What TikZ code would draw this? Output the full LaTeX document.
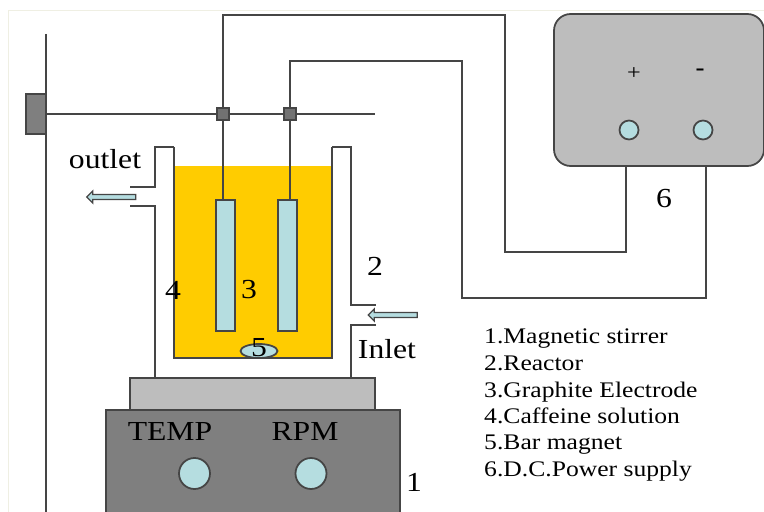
\documentclass[tikz,border=0pt]{standalone}
\usepackage{fontspec}
\setmainfont[FakeStretch=1.15]{Liberation Serif}
\usepackage{xcolor}
\usepackage{tikz}
\usetikzlibrary{shapes.geometric, shapes.arrows, calc}

\definecolor{wirecol}{HTML}{454545}
\definecolor{solncol}{HTML}{FFCC00}
\definecolor{glasscol}{HTML}{B5DDE0}
\definecolor{platecol}{HTML}{BDBDBD}
\definecolor{basecol}{HTML}{7F7F7F}
\definecolor{framecol}{HTML}{EFEFE3}

\tikzset{
    wire/.style={draw=wirecol, line width=1.5pt},
    clampbox/.style={draw=wirecol, line width=1.5pt, fill=basecol!90!black, minimum size=0.36cm, inner sep=0pt},
    electrode/.style={draw=wirecol, line width=1.5pt, fill=glasscol, minimum width=0.57cm, minimum height=3.93cm, inner sep=0pt},
    knob/.style={circle, draw=wirecol, line width=1.5pt, fill=glasscol, inner sep=0pt},
    flowarrow/.style={single arrow, draw=wirecol, line width=1.1pt, fill=glasscol, shape border rotate=180, minimum width=0.36cm, minimum height=1.47cm, single arrow head extend=0.07cm, inner sep=0.03cm},
    lbl/.style={font=\fontsize{23.5}{26}\selectfont, text=black, inner sep=0pt},
    legend/.style={font=\fontsize{19}{22}\selectfont, text=black, inner sep=0pt, anchor=base west}
}

\begin{document}
\begin{tikzpicture}[x=0.03cm, y=-0.03cm]
    \useasboundingbox (0,0) rectangle (764,512);
    \fill [white] (0,0) rectangle (764,512);
    \draw [color=framecol, line width=0.8pt] (8,512) -- (8,10) -- (764,10);

    % Stand
    \draw [wire] (46,34) -- (46,512);
    \draw [wire, fill=basecol] (26,94) rectangle (46,134);
    \draw [wire] (46,114) -- (375,114);

    % Solution and reactor
    \fill [solncol] (174,166) rectangle (332,358);
    \draw [wire] (174,147) -- (174,358) -- (332,358) -- (332,147);
    \draw [wire] (130,187) -- (155,187) -- (155,147) -- (174,147);
    \draw [wire] (130,206) -- (155,206) -- (155,378);
    \draw [wire] (332,147) -- (351,147) -- (351,305) -- (376,305);
    \draw [wire] (376,325) -- (351,325) -- (351,378);

    % Electrodes and clamps
    \node [electrode] (elecA) at (225.5,265.5) {};
    \node [electrode] (elecB) at (287.5,265.5) {};
    \node [clampbox] (clampA) at (223,114) {};
    \node [clampbox] (clampB) at (290,114) {};
    \draw [wire] (clampA) -- (clampA |- elecA.north);
    \draw [wire] (clampB) -- (clampB |- elecB.north);

    % Power supply
    \node [draw=wirecol, line width=1.5pt, fill=platecol, rounded corners=0.5cm, minimum width=6.3cm, minimum height=4.56cm, inner sep=0pt] (power) at (659,90) {};
    \node [knob, minimum size=0.57cm] (termP) at (629,130) {};
    \node [knob, minimum size=0.57cm] (termN) at (703,130) {};
    \node [font=\fontsize{18}{20}\selectfont, inner sep=0pt] (plus) at (634,74) {+};
    \node [font=\bfseries\fontsize{20}{22}\selectfont, inner sep=0pt] (minus) at (700,72) {-};

    % Wires
    \coordinate (wireAa) at (223,15);
    \coordinate (wireAb) at (505,15);
    \coordinate (wireAc) at (505,252);
    \coordinate (wireAd) at (626,252);
    \coordinate (wireBa) at (290,61);
    \coordinate (wireBb) at (462,61);
    \coordinate (wireBc) at (462,298);
    \coordinate (wireBd) at (706,298);
    \draw [wire] (clampA) -- (wireAa) -- (wireAb) -- (wireAc) -- (wireAd) -- (wireAd |- power.south);
    \draw [wire] (clampB) -- (wireBa) -- (wireBb) -- (wireBc) -- (wireBd) -- (wireBd |- power.south);

    % Magnet
    \node [ellipse, draw=wirecol, line width=1.5pt, fill=glasscol, minimum width=1.11cm, minimum height=0.42cm, inner sep=0pt] (magnet) at (259,351) {};

    % Stirrer
    \draw [wire, fill=platecol] (130,378) rectangle (375,410);
    \draw [wire, fill=basecol] (106,410) rectangle (400,514);
    \node [knob, minimum size=0.93cm] (knobT) at (194.5,473.5) {};
    \node [knob, minimum size=0.93cm] (knobR) at (311,473.5) {};

    % Flow arrows
    \node [flowarrow] (arrOut) at (112.5,197) {};
    \node [flowarrow] (arrIn) at (394,315) {};

    % Labels
    \node [lbl] (outlet) at (105,159) {outlet};
    \node [lbl] (inlet) at (387,349) {Inlet};
    \node [lbl] (temp) at (170,431) {TEMP};
    \node [lbl] (rpm) at (305,431) {RPM};
    \node [lbl] (one) at (414,482) {1};
    \node [lbl] (two) at (375,266) {2};
    \node [lbl] (three) at (249,290) {3};
    \node [lbl] (four) at (173,290) {4};
    \node [lbl] (five) at (259,348) {5};
    \node [lbl] (six) at (664,199) {6};

    % Legend
    \node [legend] (legA) at (484,343.5) {1.Magnetic stirrer};
    \node [legend] (legB) at (484,370) {2.Reactor};
    \node [legend] (legC) at (484,397) {3.Graphite Electrode};
    \node [legend] (legD) at (484,423.5) {4.Caffeine solution};
    \node [legend] (legE) at (484,449.5) {5.Bar magnet};
    \node [legend] (legF) at (484,476) {6.D.C.Power supply};
\end{tikzpicture}
\end{document}
